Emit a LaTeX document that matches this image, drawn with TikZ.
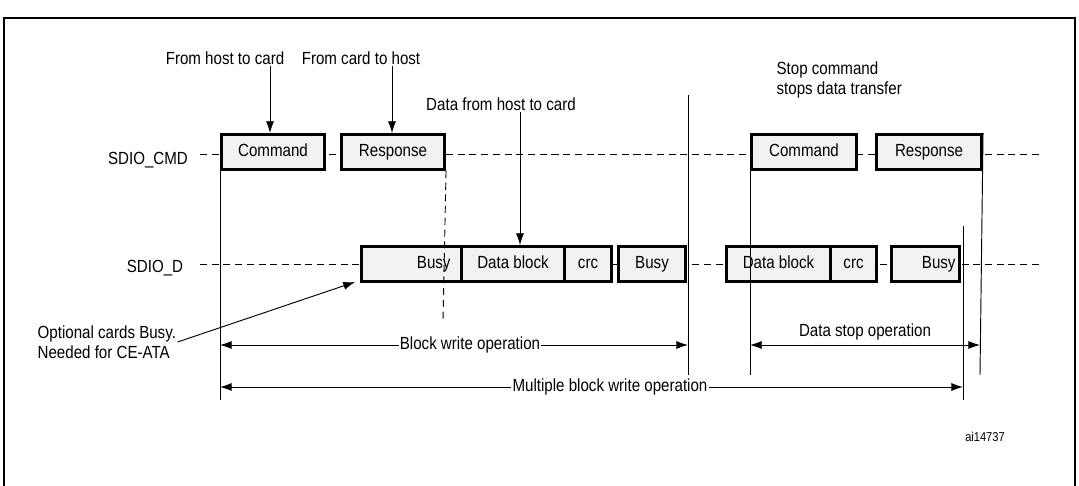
\documentclass[tikz,border=0pt]{standalone}
\usepackage{fontspec}
\setmainfont[FakeStretch=0.86]{Liberation Sans}
\usetikzlibrary{arrows.meta}

\begin{document}
\begin{tikzpicture}[x=0.03cm,y=-0.03cm,
    font=\fontsize{15}{17.5}\selectfont, line width=0.8pt,
    slot/.style={draw, line width=2.6pt, fill=gray!10, minimum height=35*0.03cm, inner sep=1pt, text height=1.6ex, text depth=0.25ex},
    txt/.style={inner sep=1pt},
    span/.style={{Latex[length=10pt,width=7pt]}-{Latex[length=10pt,width=7pt]}}]
    \useasboundingbox (0,0) rectangle (1079,486);
    % Frame
    \draw[line width=1.5pt] (4,490) -- (4,18) -- (1075,18) -- (1075,490);

    % Signal lines
    \node[txt] (cmd) at (148,160) {SDIO\_CMD};
    \node[txt] (dat) at (155,268) {SDIO\_D};
    \draw[dashed, dash pattern=on 6pt off 4pt] (200,154) -- (1040,154);
    \draw[dashed, dash pattern=on 6pt off 4pt] (200,264) -- (1040,264);

    % Boxes
    \node[slot, minimum width=103*0.03cm, anchor=west] (c1) at (220,152) {Command};
    \node[slot, minimum width=103*0.03cm, anchor=west] (r1) at (340,152) {Response};
    \node[slot, minimum width=100*0.03cm, anchor=west, align=right, text width=78*0.03cm] (b1) at (360,264) {Busy};
    \node[slot, minimum width=103*0.03cm, anchor=west] (d1) at (460,264) {Data block};
    \node[slot, minimum width=47*0.03cm, anchor=west] (k1) at (563,264) {crc};
    \node[slot, minimum width=67*0.03cm, anchor=west] (b2) at (617,264) {Busy};
    \node[slot, minimum width=105*0.03cm, anchor=west] (c2) at (750,152) {Command};
    \node[slot, minimum width=105*0.03cm, anchor=west] (r2) at (875,152) {Response};
    \node[slot, minimum width=104*0.03cm, anchor=west] (d2) at (725,264) {Data block};
    \node[slot, minimum width=46*0.03cm, anchor=west] (k2) at (829,264) {crc};
    \node[slot, minimum width=68*0.03cm, anchor=west, align=right, text width=60*0.03cm] (b3) at (890,264) {Busy};

    % Marker lines
    \coordinate (m1) at (220,400);
    \coordinate (m2) at (688,375);
    \coordinate (m3) at (750,375);
    \coordinate (m4) at (980,375);
    \coordinate (m5) at (963,400);
    \draw (c1.north west) -- (m1);
    \draw (688,95) -- (m2);
    \draw (c2.north west) -- (m3);
    \draw (r2.north east) -- (m4);
    \draw (963,226) -- (m5);
    \draw[dashed, dash pattern=on 6pt off 4pt] (r1.south east) -- (443,320);

    % Labels with arrows
    \node[txt] (t1) at (225,58) {From host to card};
    \node[txt] (t2) at (361,58) {From card to host};
    \node[txt] (t3) at (501,104) {Data from host to card};
    \node[txt, align=left, anchor=west] (t4) at (775,80) {Stop command\\stops data transfer};
    \draw[-{Latex[length=10pt,width=7pt]}] (t1.south -| 270,0) -- (c1.north -| 270,0);
    \draw[-{Latex[length=10pt,width=7pt]}] (t2.south -| 392,0) -- (r1.north -| 392,0);
    \draw[-{Latex[length=10pt,width=7pt]}] (t3.south -| 520,0) -- (d1.north -| 520,0);
    \node[txt, align=left, anchor=west] (opt) at (36,342) {Optional cards Busy.\\Needed for CE-ATA};
    \draw[-{Latex[length=10pt,width=7pt]}] (opt.east) -- (355,282);

    % Spans
    \draw[span] (220,345) -- (688,345);
    \node[txt, fill=white] (bw) at (470,345) {Block write operation};
    \draw[span] (750,345) -- (980,345);
    \node[txt] (ds) at (865,332) {Data stop operation};
    \draw[span] (220,387) -- (963,387);
    \node[txt, fill=white] (mw) at (610,387) {Multiple block write operation};
    \node[txt, font=\fontsize{11}{13}\selectfont] (id) at (985,437) {ai14737};
\end{tikzpicture}
\end{document}
